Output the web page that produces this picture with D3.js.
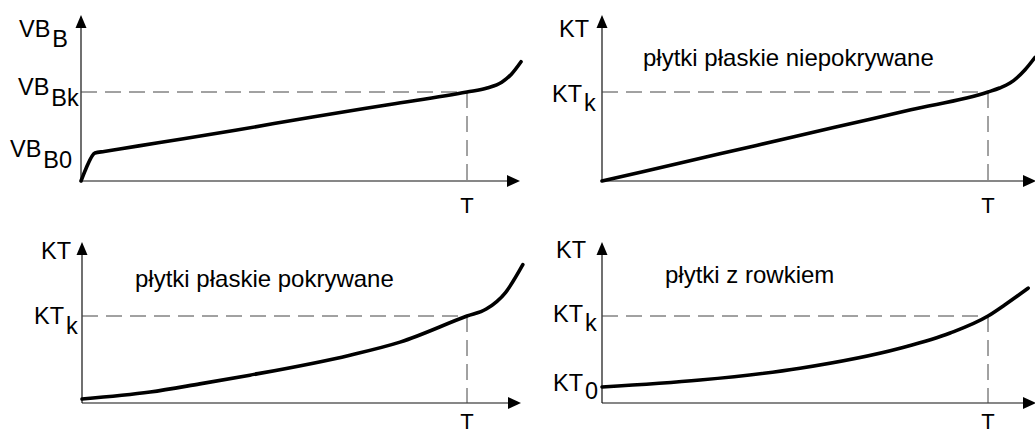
<!DOCTYPE html>
<html><head><meta charset="utf-8">
<script src="https://cdn.jsdelivr.net/npm/d3@7"></script>
<style>
html,body{margin:0;padding:0;background:#fff;}
svg{display:block;font-family:"Liberation Sans",Arial,sans-serif;}
</style></head>
<body>
<svg id="c" width="1035" height="436"></svg>
<script>
// ---- data (x in units where T = 10, y in units where the "k" level = 10) ----
const tlX = [0, 0.12, 0.36, 0.6, 1, 2, 4, 6, 8, 10, 10.52, 10.9, 11.15, 11.4];
const tlY = [0, 1.3, 3.15, 3.32, 3.6, 4.3, 5.7, 7.2, 8.6, 10, 10.45, 11.1, 12.0, 13.4];

const trX = [0, 2, 4, 6, 8, 10, 10.3, 10.57, 10.96, 11.22];
const trY = [0, 2, 4, 6, 8, 10, 10.45, 11.0, 12.5, 13.9];

const blX = [0, 1.77, 3.06, 4.36, 6.96, 8.26, 10, 10.5, 11.0, 11.45];
const blY = [0.46, 1.26, 2.2, 3.2, 5.5, 7.0, 10, 10.8, 12.7, 15.9];

const brX = [0, 2.54, 5.13, 7.72, 9.02, 10, 10.44, 11.04];
const brY = [1.84, 2.64, 4.0, 6.3, 8.05, 10, 11.3, 13.2];

const titles = ["", "płytki płaskie niepokrywane", "płytki płaskie pokrywane", "płytki z rowkiem"];
const xTickLabels = ["T", "T", "T", "T"];
// y labels: [main, subscript]
const tlYLabels = [["VB", "B"], ["VB", "Bk"], ["VB", "B0"]];
const trYLabels = [["KT", ""], ["KT", "k"]];
const blYLabels = [["KT", ""], ["KT", "k"]];
const brYLabels = [["KT", ""], ["KT", "k"], ["KT", "0"]];

// ---- layout ----
const panels = [
  {x:tlX, y:tlY, labels:tlYLabels, title:titles[0], tick:xTickLabels[0],
   x0:81, xT:467, xEnd:520, y0:181, yK:92, yTop:15,
   lab:[[19,37,10],[18,95,11],[10,157,11]], titlePos:null},
  {x:trX, y:trY, labels:trYLabels, title:titles[1], tick:xTickLabels[1],
   x0:602, xT:988, xEnd:1036, y0:181, yK:92, yTop:15,
   lab:[[559,37,0],[552,102,9]], titlePos:[643,66]},
  {x:blX, y:blY, labels:blYLabels, title:titles[2], tick:xTickLabels[2],
   x0:82, xT:467, xEnd:521, y0:403, yK:316, yTop:242,
   lab:[[41,259,0],[34,324,10]], titlePos:[135,287]},
  {x:brX, y:brY, labels:brYLabels, title:titles[3], tick:xTickLabels[3],
   x0:602, xT:988, xEnd:1036, y0:403, yK:316, yTop:242,
   lab:[[556,258,0],[553,322,9],[553,391,8]], titlePos:[665,283]}
];

const svg = d3.select("#c");

panels.forEach(p => {
  const xs = d3.scaleLinear().domain([0, 10]).range([p.x0, p.xT]);
  const ys = d3.scaleLinear().domain([0, 10]).range([p.y0, p.yK]);
  const g = svg.append("g");

  // x axis line (no ticks) via d3.axisBottom
  const xAxis = d3.axisBottom(xs).tickValues([]).tickSizeOuter(0);
  const xg = g.append("g").attr("transform", `translate(0,${p.y0})`).call(xAxis);
  xg.select(".domain").attr("d", `M${p.x0},0H${p.xEnd - 10}`).attr("stroke", "#111").attr("stroke-width", 1.2);
  // y axis
  const yAxis = d3.axisLeft(ys).tickValues([]).tickSizeOuter(0);
  const yg = g.append("g").attr("transform", `translate(${p.x0},0)`).call(yAxis);
  yg.select(".domain").attr("d", `M0,${p.y0}V${p.yTop + 10}`).attr("stroke", "#111").attr("stroke-width", 1.2);

  // arrowheads
  g.append("path").attr("d", `M${p.xEnd},${p.y0} L${p.xEnd - 13},${p.y0 - 6} L${p.xEnd - 13},${p.y0 + 6} Z`).attr("fill", "#000");
  g.append("path").attr("d", `M${p.x0},${p.yTop} L${p.x0 - 5.5},${p.yTop + 13} L${p.x0 + 5.5},${p.yTop + 13} Z`).attr("fill", "#000");

  // dashed guides
  g.append("line").attr("x1", p.x0).attr("x2", xs(10)).attr("y1", ys(10)).attr("y2", ys(10))
    .attr("stroke", "#444").attr("stroke-width", 1).attr("stroke-dasharray", "16,8");
  g.append("line").attr("x1", xs(10)).attr("x2", xs(10)).attr("y1", ys(10)).attr("y2", p.y0)
    .attr("stroke", "#444").attr("stroke-width", 1).attr("stroke-dasharray", "16,8");

  // curve
  const pts = p.x.map((v, i) => [v, p.y[i]]);
  g.append("path").datum(pts)
    .attr("d", d3.line().x(d => xs(d[0])).y(d => ys(d[1])).curve(d3.curveMonotoneX))
    .attr("fill", "none").attr("stroke", "#000").attr("stroke-width", 3.6)
    .attr("stroke-linecap", "round").attr("stroke-linejoin", "round");

  // T label
  g.append("text").attr("x", xs(10)).attr("y", Math.min(p.y0 + 32, 429)).attr("text-anchor", "middle")
    .attr("font-size", 22).attr("fill", "#000").text(p.tick);

  // y labels
  p.labels.forEach((l, i) => {
    const [lx, ly, sdy] = p.lab[i];
    const t = g.append("text").attr("x", lx).attr("y", ly).attr("font-size", 23.5).attr("fill", "#000");
    t.append("tspan").text(l[0]);
    if (l[1]) t.append("tspan").attr("dx", 2).attr("dy", sdy).text(l[1]);
  });

  // title
  if (p.titlePos) {
    g.append("text").attr("x", p.titlePos[0]).attr("y", p.titlePos[1])
      .attr("font-size", 24).attr("fill", "#000").text(p.title);
  }
});
</script>
</body></html>
